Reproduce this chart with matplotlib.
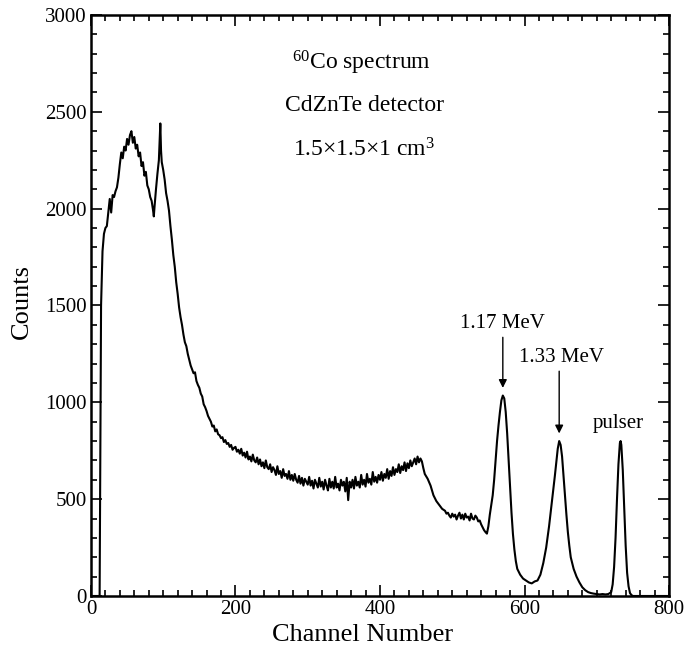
import matplotlib
matplotlib.use("Agg")
import matplotlib.pyplot as plt
from matplotlib.ticker import MultipleLocator

plt.rcParams['font.family'] = ['Liberation Serif', 'DejaVu Serif']
plt.rcParams['mathtext.fontset'] = 'custom'
plt.rcParams['mathtext.rm'] = 'Liberation Serif'
plt.rcParams['mathtext.it'] = 'Liberation Serif:italic'

# ---- data ----
ch_low = [0, 10, 12, 13, 14, 16, 18, 20, 22, 24, 26, 28, 30, 32, 34, 36, 38, 40, 42, 44, 46, 48,
          50, 52, 54, 56, 58, 60, 62, 64, 66, 68, 70, 72, 74, 76, 78, 80, 82, 84, 86, 87, 88,
          90, 92, 94, 96, 97, 98, 100, 102, 104, 106, 108, 110, 112, 114, 116, 118, 120, 122,
          124, 126, 128, 130, 132, 134, 136, 138]
cnt_low = [0, 0, 0, 800, 1500, 1780, 1870, 1900, 1910, 1980, 2050, 1980, 2070, 2060, 2090, 2110,
           2160, 2230, 2290, 2260, 2320, 2300,
           2360, 2330, 2380, 2400, 2340, 2370, 2310, 2330, 2270, 2290, 2220, 2240, 2170, 2190,
           2120, 2100, 2060, 2040, 1990, 1960, 2010,
           2100, 2180, 2250, 2440, 2300, 2240, 2200, 2150, 2080, 2040, 1990, 1910, 1840, 1760,
           1700, 1620, 1560, 1490,
           1440, 1400, 1350, 1310, 1290, 1250, 1220, 1190]

ch_mid = list(range(140, 462, 2))
cnt_mid = [1170, 1150, 1155, 1110, 1090, 1075, 1045, 1030, 990, 975, 955, 930, 915, 900, 875,
           880, 850, 860, 835, 830, 815, 820, 795, 805, 785, 790, 770, 780, 755, 765,
           770, 745, 755, 735, 760, 725, 740, 715, 745, 705, 720, 695, 730, 700, 690, 715, 680,
           705, 670, 690, 660, 700, 665, 655, 680, 640, 665, 650, 625, 670, 630, 645, 610, 655,
           620, 630, 605, 645, 600, 625, 595, 630, 600, 585, 620, 580, 610, 570, 605, 590,
           575, 615, 570, 595, 555, 600, 580, 560, 610, 565, 590, 550, 600, 570, 545, 605, 560,
           590, 555, 615, 560, 580, 545, 600, 570, 590, 540, 610, 495, 590, 560, 600, 555, 615,
           570, 590, 560, 625, 575, 600, 565, 630, 585, 605, 575, 640, 590, 615, 585, 625,
           600, 640, 595, 630, 610, 655, 605, 645, 620, 665, 625, 655, 640, 680, 635, 670, 650,
           690, 645, 685, 660, 700, 670, 690, 710, 680, 720, 690, 710, 695, 660]

ch_high = [462, 466, 470, 474, 478, 482, 486, 490, 492, 494, 496, 498, 500, 502, 504, 506, 508,
           510, 512, 514, 516, 518, 520, 522, 524, 526, 528, 530, 532, 534, 536, 538, 540, 542,
           544, 546, 548, 550, 552, 554, 556, 558, 560, 562, 564, 566, 568, 570,
           572, 574, 576, 578, 580, 582, 584, 586, 588, 590, 594, 598, 602, 606, 610, 614, 618,
           622, 626, 630, 634, 638, 642, 646, 648, 650, 652, 654, 656, 658, 660, 662, 664, 668,
           672, 676, 680, 684, 688, 692, 696, 700, 704, 708, 712, 716, 720, 722, 724, 726, 728,
           730, 732, 733, 734, 736, 738, 740, 742, 744, 746, 748, 750, 800]
cnt_high = [630, 605, 570, 520, 490, 470, 450, 440, 425, 430, 415, 405, 425, 410, 420, 395,
            415, 430, 400, 420, 395, 425, 405, 410, 390, 425, 400, 395, 415, 405, 385, 390, 370,
            355, 340, 330, 322, 360, 420, 470, 520, 600, 700, 800, 880, 950, 1010, 1035,
            1020, 950, 840, 700, 560, 430, 320, 240, 180, 140, 110, 90, 80, 70, 65, 75, 80,
            110, 170, 250, 360, 490, 620, 760, 800, 780, 720, 620, 520, 420, 330, 260, 200, 140,
            100, 70, 45, 30, 20, 15, 12, 10, 8, 10, 8, 10, 20, 60, 150, 300, 500,
            680, 790, 800, 780, 650, 450, 260, 120, 50, 15, 5, 0, 0]

channels = ch_low + ch_mid + ch_high
counts = cnt_low + cnt_mid + cnt_high

x_ticks = [0, 200, 400, 600, 800]
y_ticks = [0, 500, 1000, 1500, 2000, 2500, 3000]

fig = plt.figure(figsize=(6.89, 6.51), dpi=100)
ax = fig.add_axes([0.132, 0.0845, 0.839, 0.8925])

ax.plot(channels, counts, color='black', lw=1.5)

ax.set_xlim(0, 800)
ax.set_ylim(0, 3000)
ax.set_xticks(x_ticks)
ax.set_yticks(y_ticks)
ax.xaxis.set_minor_locator(MultipleLocator(20))
ax.yaxis.set_minor_locator(MultipleLocator(100))
ax.tick_params(which='both', direction='in', top=True, right=True, width=1.2, labelsize=15,
               colors='black')
ax.tick_params(which='major', length=8, pad=3)
ax.tick_params(which='minor', length=4)
for s in ax.spines.values():
    s.set_linewidth(1.8)

ax.set_xlabel('Channel Number', fontsize=19, va='center')
ax.xaxis.set_label_coords(0.469, -0.068)
ax.set_ylabel('Counts', fontsize=19, va='center')
ax.yaxis.set_label_coords(-0.12, 0.506)

ax.text(375, 2752, r'$^{60}$Co spectrum', fontsize=17, ha='center', va='center')
ax.text(378, 2535, 'CdZnTe detector', fontsize=17, ha='center', va='center')
ax.text(378, 2302, r'1.5×1.5×1 cm$^{3}$', fontsize=17, ha='center', va='center')

ax.annotate('', xy=(570, 1060), xytext=(570, 1350),
            arrowprops=dict(arrowstyle='-|>', color='black', lw=1.0, mutation_scale=12))
ax.text(570, 1405, '1.17 MeV', fontsize=15, ha='center', va='center')
ax.annotate('', xy=(648, 825), xytext=(648, 1175),
            arrowprops=dict(arrowstyle='-|>', color='black', lw=1.0, mutation_scale=12))
ax.text(651, 1229, '1.33 MeV', fontsize=15, ha='center', va='center')
ax.text(730, 893, 'pulser', fontsize=15, ha='center', va='center')

fig.savefig('out.png', dpi=100)
